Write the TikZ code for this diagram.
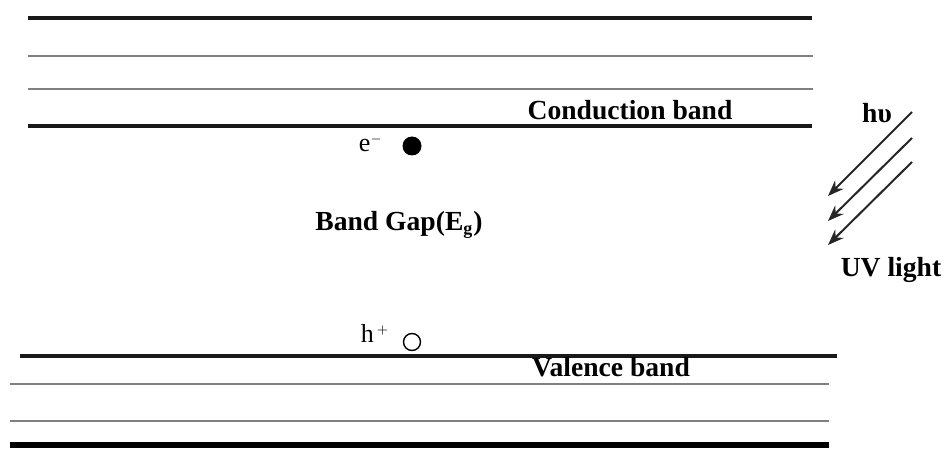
\documentclass[tikz,border=0pt]{standalone}
\usepackage{fontspec}
\setmainfont{Liberation Serif}
\usetikzlibrary{arrows.meta}
\begin{document}
\begin{tikzpicture}[x=0.5pt,y=-0.5pt,
  thickband/.style={line width=2pt,black!90},
  thinband/.style={line width=1.2pt,black!50},
  lbl/.style={font=\fontsize{13.8}{15}\selectfont\bfseries,inner sep=0pt},
  reg/.style={font=\fontsize{13}{15}\selectfont,inner sep=0pt},
  ray/.style={line width=1pt,black!85,-{Stealth[length=8pt,width=6pt]}}]
\useasboundingbox (0,0) rectangle (949,449);
% conduction band lines
\draw[thickband] (28,18) -- (812,18);
\draw[thinband] (28,56) -- (813,56);
\draw[thinband] (28,89) -- (813,89);
\draw[thickband] (28,126) -- (812,126);
% valence band lines
\draw[thickband] (20,356) -- (837,356);
\draw[thinband] (10,384) -- (829,384);
\draw[thinband] (10,421) -- (829,421);
\draw[line width=3pt,black] (10,445) -- (829,445);
% labels
\node[lbl] (cb) at (630,110) {Conduction band};
\node[lbl] (vb) at (611,367) {Valence band};
\node[lbl] (gap) at (399,225) {Band Gap(E\textsubscript{\fontsize{9}{10}\selectfont g})};
% electron and hole
\node[reg] (el) at (371,143) {e$^{\scriptscriptstyle -}$};
\node[circle,fill=black,minimum size=9.5pt,inner sep=0pt] (eldot) at (412,146) {};
\node[reg] (hl) at (375,333) {h$^{\,\scriptscriptstyle +}$};
\node[circle,draw,line width=0.7pt,minimum size=8.5pt,inner sep=0pt] (hole) at (412,342) {};
% light
\node[lbl] (hv) at (877,113) {hυ};
\node[lbl] (uv) at (891,270) {UV light};
\coordinate (a1s) at (912,112); \coordinate (a1e) at (828,196);
\coordinate (a2s) at (912,138); \coordinate (a2e) at (828,221);
\coordinate (a3s) at (912,162); \coordinate (a3e) at (828,245);
\draw[ray] (a1s) -- (a1e);
\draw[ray] (a2s) -- (a2e);
\draw[ray] (a3s) -- (a3e);
\end{tikzpicture}
\end{document}
